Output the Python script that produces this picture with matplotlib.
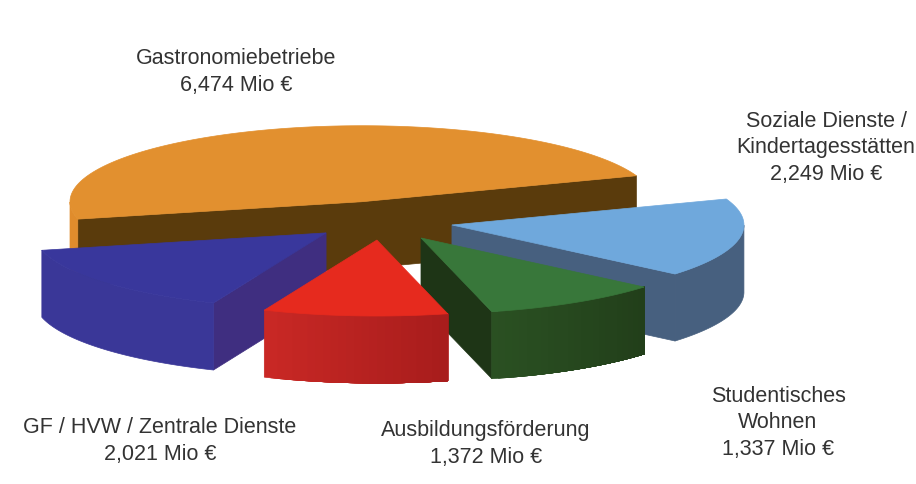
import numpy as np
import matplotlib.pyplot as plt
from matplotlib.colors import to_rgb
from matplotlib.patches import Polygon

plt.rcParams["font.family"] = ["Liberation Sans", "DejaVu Sans"]

# order runs counter-clockwise from the right-hand edge of the largest slice
names = ["Gastronomiebetriebe", "GF / HVW / Zentrale Dienste", "Ausbildungsförderung",
         "Studentisches\nWohnen", "Soziale Dienste /\nKindertagesstätten"]
values = [6.474, 2.021, 1.372, 1.337, 2.249]

top_colors = ["#E2902F", "#39379C", "#E62A1E", "#38773A", "#6FA8DC"]
# rim colour at the start and end of each slice's front arc
rim_start = ["#E08C2C", "#3A3798", "#C92825", "#2A5022", "#47607F"]
rim_end = ["#E08C2C", "#3A3798", "#A81D1C", "#223F1A", "#47607F"]
cut_colors = ["#5A3B0C", "#3F2E80", "#BB2423", "#1E3516", "#47607F"]
# plane offset of each slice tip
offsets = [(0.0, 0.03), (-0.123, -0.38), (0.051, -0.474), (0.202, -0.447), (0.308, -0.276)]
label_xy = [(236, 72), (160, 441), (486, 444), (778, 423), (826, 148)]
draw_order = [0, 4, 1, 3, 2]

CX, CY = 362, 204
A, B = 292, 76
DEPTH = 67
START = 20
RIM_STEPS = 24


def project(x, y, z=0.0):
    return CX + A * x, CY - B * y + DEPTH * z


def wall(ax, x, y, color):
    # extrude a path in the pie plane down by the pie thickness
    tx, ty = project(x, y, 0)
    bx, by = project(x, y, 1)
    pts = np.column_stack([np.r_[tx, bx[::-1]], np.r_[ty, by[::-1]]])
    ax.add_patch(Polygon(pts, closed=True, fc=color, ec=color, lw=0.5))


def draw_slice(ax, t1, t2, off, top, rim0, rim1, cut):
    th = np.radians(np.linspace(t1, t2, 240))
    rx, ry = off[0] + np.cos(th), off[1] + np.sin(th)

    # cut faces, only those turned towards the viewer
    if np.cos(th[0]) > 0:
        wall(ax, np.array([off[0], rx[0]]), np.array([off[1], ry[0]]), cut)
    if np.cos(th[-1]) < 0:
        wall(ax, np.array([off[0], rx[-1]]), np.array([off[1], ry[-1]]), cut)

    # outer rim, front half only: each step paints over the rest of the arc
    idx = np.flatnonzero(np.sin(th) < 0)
    c0, c1 = np.array(to_rgb(rim0)), np.array(to_rgb(rim1))
    if len(idx) > 1:
        steps = 1 if rim0 == rim1 else RIM_STEPS
        for k in range(steps):
            seg = idx[k * (len(idx) - 1) // steps:]
            wall(ax, rx[seg], ry[seg], tuple(c0 + (c1 - c0) * k / max(steps - 1, 1)))

    tx, ty = project(np.r_[off[0], rx], np.r_[off[1], ry])
    ax.add_patch(Polygon(np.column_stack([tx, ty]), closed=True, fc=top, ec=top, lw=0.5))


fig = plt.figure(figsize=(9.16, 4.84), dpi=100)
ax = fig.add_axes([0, 0, 1, 1])
ax.set_xlim(0, 916)
ax.set_ylim(484, 0)
ax.axis("off")

sweeps = np.array(values) / sum(values) * 360
edges = START + np.r_[0, np.cumsum(sweeps)]

for i in draw_order:
    draw_slice(ax, edges[i], edges[i + 1], offsets[i], top_colors[i],
               rim_start[i], rim_end[i], cut_colors[i])

for name, v, (x, y) in zip(names, values, label_xy):
    text = f"{name}\n{v:.3f} Mio €".replace(".", ",")
    ax.text(x, y, text, ha="center", va="center", fontsize=15.5, color="#333333", linespacing=1.32)

fig.savefig("out.png", dpi=100)
